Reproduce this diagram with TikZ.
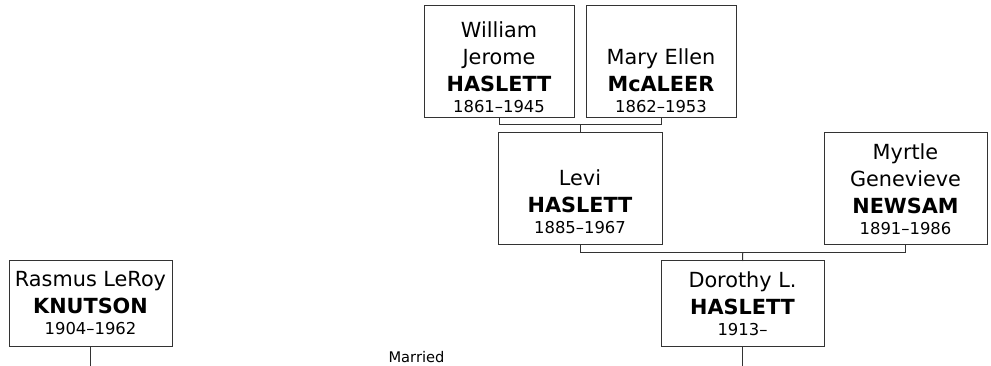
\documentclass[tikz,border=0pt]{standalone}
\usepackage{fontspec}
\setmainfont{DejaVu Sans}
\usetikzlibrary{positioning,calc}
\definecolor{lineclr}{HTML}{333333}
\newcommand{\surname}[1]{\textbf{#1}}
\newcommand{\lifespan}[1]{\\[-4.5pt]{\fontsize{12.3pt}{14pt}\selectfont #1}}
%% card text: width, height, bottom gap, lines
\newcommand{\cardtext}[4]{\parbox[c][#2][b]{#1}{\centering
  \fontsize{15.6pt}{20.25pt}\selectfont #4\par\vspace{#3}}}

\begin{document}
\begin{tikzpicture}[
  person/.style={draw=lineclr,line width=0.75pt,inner sep=0pt,outer sep=0pt},
  link/.style={draw=lineclr,line width=0.75pt},
  lbl/.style={font=\fontsize{11pt}{13pt}\selectfont,inner sep=0pt},
  x=0.75pt, y=-0.75pt
]
\useasboundingbox (0,0) rectangle (991,366);

%% grandparents
\node[person] (william) at (499,62)
  {\cardtext{112.5pt}{84pt}{3.75pt}{William\\Jerome\\\surname{HASLETT}\lifespan{1861–1945}}};
\node[person] (mary) at (661,62)
  {\cardtext{112.5pt}{84pt}{3.75pt}{Mary Ellen\\\surname{McALEER}\lifespan{1862–1953}}};

%% parents
\node[person] (levi) at (580,189)
  {\cardtext{123pt}{84pt}{8.25pt}{Levi\\\surname{HASLETT}\lifespan{1885–1967}}};
\node[person] (myrtle) at (905.5,189)
  {\cardtext{122.25pt}{84pt}{7.5pt}{Myrtle\\Genevieve\\\surname{NEWSAM}\lifespan{1891–1986}}};

%% couple
\node[person] (rasmus) at (90.5,303.5)
  {\cardtext{122.25pt}{63.75pt}{8.25pt}{Rasmus LeRoy\\\surname{KNUTSON}\lifespan{1904–1962}}};
\node[person] (dorothy) at (742.5,303.5)
  {\cardtext{122.25pt}{63.75pt}{7.5pt}{Dorothy L.\\\surname{HASLETT}\lifespan{1913–}}};

%% William + Mary -> Levi
\draw[link] (william.south) -- ++(0,7) -| (mary.south);
\coordinate (wm) at ($(william.south)!0.5!(mary.south)+(0,7)$);
\draw[link] (wm) -- (levi.north);

%% Levi + Myrtle -> Dorothy
\draw[link] (levi.south) -- ++(0,8) -| (myrtle.south);
\coordinate (lm) at ($(levi.south)!0.5!(myrtle.south)+(0,8)$);
\draw[link] (lm) -- (dorothy.north);

%% marriage (lines run off the bottom)
\coordinate (rdown) at ($(rasmus.south)+(0,22)$);
\coordinate (ddown) at ($(dorothy.south)+(0,22)$);
\draw[link] (rasmus.south) -- (rdown);
\draw[link] (dorothy.south) -- (ddown);
\node[lbl] (married) at ($(rasmus.south)!0.5!(dorothy.south)+(0,11)$) {Married};

\end{tikzpicture}
\end{document}
